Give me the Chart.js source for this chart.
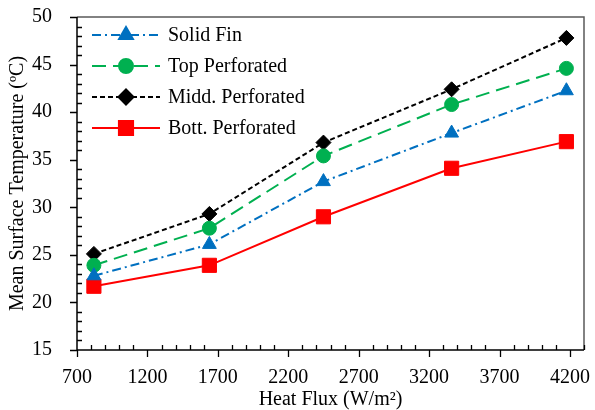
<!DOCTYPE html>
<html lang="en">
<head>
    <meta charset="UTF-8">
    <title>Mean Surface Temperature vs Heat Flux</title>
    <style>
        body {
            margin: 0;
            background-color: #ffffff;
        }
        #chart-box {
            width: 595px;
            height: 410px;
        }
    </style>
</head>
<body>
    <div id="chart-box">
        <canvas id="tempChart" width="595" height="410"></canvas>
    </div>

    <script src="https://cdn.jsdelivr.net/npm/chart.js"></script>

    <script>
        // Data
        const heatFlux = [820, 1640, 2450, 3360, 4175];
        const solidFin = [22.8, 26.1, 32.7, 37.8, 42.25];
        const topPerforated = [23.9, 27.8, 35.4, 40.8, 44.6];
        const middPerforated = [25.1, 29.3, 36.8, 42.4, 47.8];
        const bottPerforated = [21.7, 23.9, 29.0, 34.1, 36.9];
        const seriesNames = ['Solid Fin', 'Top Perforated', 'Midd. Perforated', 'Bott. Perforated'];
        const xTicks = [700, 1200, 1700, 2200, 2700, 3200, 3700, 4200];
        const yTicks = [15, 20, 25, 30, 35, 40, 45, 50];

        const serif = "'Liberation Serif', 'Times New Roman', serif";

        function toPoints(values) {
            return values.map((v, i) => ({ x: heatFlux[i], y: v }));
        }

        const datasets = [
            {
                label: seriesNames[0],
                data: toPoints(solidFin),
                borderColor: '#0070C0',
                backgroundColor: '#0070C0',
                borderDash: [9, 4, 2, 4],
                pointStyle: 'triangle',
                pointRadius: 8
            },
            {
                label: seriesNames[1],
                data: toPoints(topPerforated),
                borderColor: '#00B050',
                backgroundColor: '#00B050',
                borderDash: [14, 7],
                pointStyle: 'circle',
                pointRadius: 7
            },
            {
                label: seriesNames[2],
                data: toPoints(middPerforated),
                borderColor: '#000000',
                backgroundColor: '#000000',
                borderDash: [5, 3],
                pointStyle: 'rectRot',
                pointRadius: 7.5
            },
            {
                label: seriesNames[3],
                data: toPoints(bottPerforated),
                borderColor: '#FF0000',
                backgroundColor: '#FF0000',
                borderDash: [],
                pointStyle: 'rect',
                pointRadius: 10
            }
        ];
        datasets.forEach(ds => {
            ds.borderWidth = 2;
            ds.pointBorderWidth = 1;
            ds.pointBorderColor = ds.borderColor;
            ds.pointBackgroundColor = ds.backgroundColor;
            ds.fill = false;
            ds.tension = 0;
        });

        // box, tick marks and the in-plot legend
        const frameAndLegend = {
            id: 'frameAndLegend',
            afterDatasetsDraw(chart) {
                const ctx = chart.ctx;
                const area = chart.chartArea;
                const xs = chart.scales.x;
                const ys = chart.scales.y;
                ctx.save();

                // top and right border
                ctx.strokeStyle = '#595959';
                ctx.lineWidth = 1.5;
                ctx.beginPath();
                ctx.moveTo(area.left, area.top);
                ctx.lineTo(area.right, area.top);
                ctx.lineTo(area.right, area.bottom);
                ctx.stroke();

                // left and bottom axes
                ctx.strokeStyle = '#000000';
                ctx.beginPath();
                ctx.moveTo(area.left, area.top);
                ctx.lineTo(area.left, area.bottom);
                ctx.lineTo(area.right, area.bottom);
                ctx.stroke();

                ctx.lineWidth = 1.3;
                ctx.beginPath();
                // y ticks: major outside, minor inside
                for (let v = 15; v <= 50; v++) {
                    const py = Math.round(ys.getPixelForValue(v)) + 0.5;
                    if (v % 5 === 0) {
                        ctx.moveTo(area.left - 7, py);
                        ctx.lineTo(area.left, py);
                    } else {
                        ctx.moveTo(area.left, py);
                        ctx.lineTo(area.left + 5, py);
                    }
                }
                // x ticks
                for (let v = 700; v <= 4300; v += 100) {
                    const px = Math.round(xs.getPixelForValue(v)) + 0.5;
                    if ((v - 700) % 500 === 0) {
                        ctx.moveTo(px, area.bottom);
                        ctx.lineTo(px, area.bottom + 7);
                    } else {
                        ctx.moveTo(px, area.bottom);
                        ctx.lineTo(px, area.bottom - 5);
                    }
                }
                ctx.stroke();

                // legend
                ctx.font = '20px ' + serif;
                ctx.textBaseline = 'middle';
                ctx.textAlign = 'left';
                chart.data.datasets.forEach((ds, i) => {
                    const cy = area.top + 18 + i * 31;
                    ctx.strokeStyle = ds.borderColor;
                    ctx.lineWidth = ds.borderWidth;
                    ctx.setLineDash(ds.borderDash);
                    ctx.beginPath();
                    ctx.moveTo(92, cy);
                    ctx.lineTo(160, cy);
                    ctx.stroke();
                    ctx.setLineDash([]);
                    ctx.fillStyle = ds.backgroundColor;
                    Chart.helpers.drawPoint(ctx, {
                        pointStyle: ds.pointStyle,
                        radius: ds.pointRadius,
                        rotation: 0,
                        borderWidth: 1
                    }, 126, cy);
                    ctx.fillStyle = '#000000';
                    ctx.fillText(ds.label, 168, cy + 1);
                });

                ctx.restore();
            }
        };

        const ctx = document.getElementById('tempChart').getContext('2d');
        const tempChart = new Chart(ctx, {
            type: 'line',
            data: { datasets: datasets },
            options: {
                responsive: false,
                animation: false,
                layout: {
                    padding: { top: 17, right: 10, left: 0, bottom: 0 }
                },
                plugins: {
                    legend: { display: false },
                    tooltip: { enabled: false }
                },
                scales: {
                    x: {
                        type: 'linear',
                        min: 700,
                        max: 4300,
                        afterBuildTicks: scale => {
                            scale.ticks = xTicks.map(v => ({ value: v }));
                        },
                        afterFit: scale => {
                            scale.height = 60;
                            scale.paddingLeft = 0;
                            scale.paddingRight = 0;
                        },
                        grid: { display: false },
                        border: { display: false },
                        ticks: {
                            color: '#000000',
                            padding: 8,
                            maxRotation: 0,
                            callback: v => String(v),
                            font: { family: serif, size: 20 }
                        },
                        title: {
                            display: true,
                            text: 'Heat Flux (W/m²)',
                            color: '#000000',
                            padding: { top: 0, bottom: 0 },
                            font: { family: serif, size: 20, lineHeight: 1.0 }
                        }
                    },
                    y: {
                        type: 'linear',
                        min: 15,
                        max: 50,
                        afterBuildTicks: scale => {
                            scale.ticks = yTicks.map(v => ({ value: v }));
                        },
                        afterFit: scale => {
                            scale.width = 77;
                            scale.paddingTop = 0;
                            scale.paddingBottom = 0;
                        },
                        grid: { display: false },
                        border: { display: false },
                        ticks: {
                            color: '#000000',
                            padding: 17,
                            font: { family: serif, size: 20 }
                        },
                        title: {
                            display: true,
                            text: 'Mean Surface Temperature (ºC)',
                            color: '#000000',
                            padding: { top: 6, bottom: 0 },
                            font: { family: serif, size: 20 }
                        }
                    }
                }
            },
            plugins: [frameAndLegend]
        });
    </script>
</body>
</html>
